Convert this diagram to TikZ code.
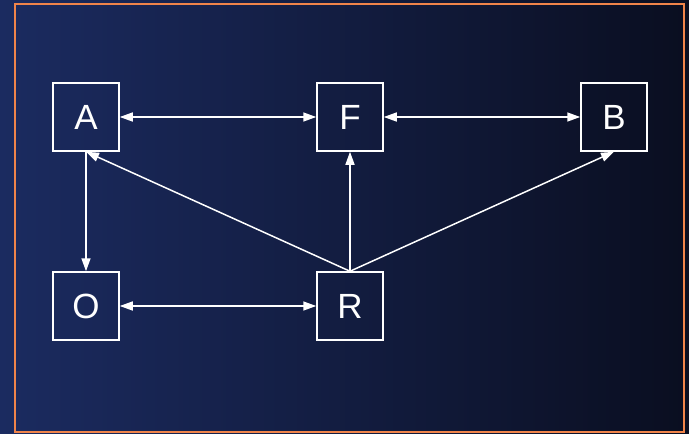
\documentclass[tikz,border=0pt]{standalone}
\usepackage{fontspec}
\setmainfont{Liberation Sans}
\usetikzlibrary{arrows.meta}
\definecolor{bgleft}{HTML}{1B2B60}
\definecolor{bgright}{HTML}{0A0E20}
\definecolor{frame}{HTML}{F0844A}
\tikzset{
  box/.style={draw=white, line width=1.5pt, minimum width=66pt, minimum height=68pt, inner sep=0pt,
    text=white, font=\fontsize{35}{40}\selectfont},
  tip/.style={Triangle[length=13pt,width=9pt]},
  link/.style={draw=white, line width=1.5pt, -{Triangle[length=13pt,width=9pt]}},
  dlink/.style={draw=white, line width=1.5pt, {Triangle[length=13pt,width=9pt]}-{Triangle[length=13pt,width=9pt]}}
}
\begin{document}
\begin{tikzpicture}[x=1pt,y=-1pt]
\useasboundingbox (0,0) rectangle (689,434);
\shade[left color=bgleft, right color=bgright] (0,0) rectangle (689,434);
\draw[frame, line width=2pt] (15,4) rectangle (684,432);
\node[box] (A) at (86,117) {A};
\node[box] (F) at (350,117) {F};
\node[box] (B) at (614,117) {B};
\node[box] (O) at (86,306) {O};
\node[box] (R) at (350,306) {R};
\draw[dlink] (A.east) -- (F.west);
\draw[dlink] (F.east) -- (B.west);
\draw[link] (A.south) -- (O.north);
\draw[dlink] (O.east) -- (R.west);
\draw[link] (R.north) -- (A.south);
\draw[link] (R.north) -- (F.south);
\draw[link] (R.north) -- (B.south);
\end{tikzpicture}
\end{document}
